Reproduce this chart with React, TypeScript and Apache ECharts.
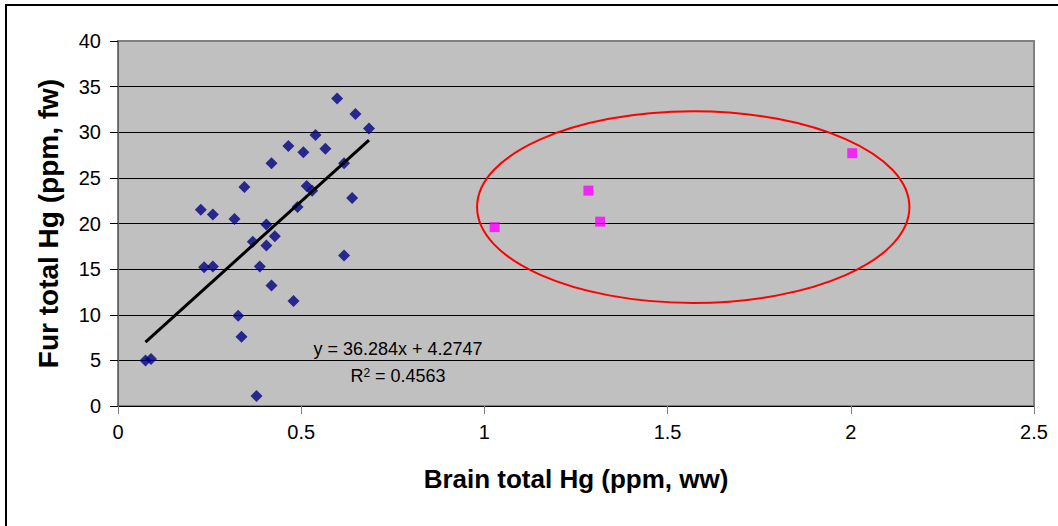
import React, { useEffect, useRef } from "react";
import * as echarts from "echarts";

// Brain total Hg (ppm, ww) vs Fur total Hg (ppm, fw) – main group (blue diamonds)
const brainHg = [0.598, 0.648, 0.685, 0.539, 0.465, 0.566, 0.506, 0.419, 0.617, 0.345, 0.515, 0.53, 0.639, 0.226, 0.259, 0.49, 0.318, 0.405, 0.428, 0.368, 0.405, 0.617, 0.235, 0.259, 0.387, 0.419, 0.479, 0.328, 0.337, 0.075, 0.09, 0.378];
const furHg = [33.7, 32.0, 30.4, 29.7, 28.5, 28.2, 27.8, 26.6, 26.6, 24.0, 24.1, 23.6, 22.8, 21.5, 21.0, 21.8, 20.5, 19.9, 18.6, 18.0, 17.6, 16.5, 15.2, 15.3, 15.3, 13.2, 11.5, 9.9, 7.6, 5.0, 5.15, 1.1];

// Outliers (magenta squares)
const outlierBrainHg = [1.028, 1.284, 1.316, 2.004];
const outlierFurHg = [19.6, 23.6, 20.2, 27.7];

// Trendline from the chart's equation
const trendSlope = 36.284;
const trendIntercept = 4.2747;
const equationText = "y = 36.284x + 4.2747";
const r2Text = "R{sup|2} = 0.4563";

// Highlight ellipse: [centerX, centerY, radiusX, radiusY] in data units
const ellipseData = [[1.57, 21.8, 0.59, 10.5]];

const xTicks = ["0", "0.5", "1", "1.5", "2", "2.5"];
const yMax = 40;
const xMax = 2.5;

const FONT = "'Liberation Sans', Arial, Helvetica, sans-serif";

export default function App() {
  const ref = useRef<HTMLDivElement>(null);

  useEffect(() => {
    if (!ref.current) return;
    document.body.style.margin = "0";
    const chart = echarts.init(ref.current, undefined, { renderer: "svg" });

    const mainPts = brainHg.map((x, i) => [x, furHg[i]]);
    const outPts = outlierBrainHg.map((x, i) => [x, outlierFurHg[i]]);
    const xMin = Math.min(...brainHg);
    const xMaxData = Math.max(...brainHg);
    const trend = [
      [xMin, trendSlope * xMin + trendIntercept],
      [xMaxData, trendSlope * xMaxData + trendIntercept],
    ];

    const splitColors = [] as string[];
    for (let v = 0; v <= yMax; v += 5) splitColors.push(v === yMax ? "#808080" : "#000000");

    chart.setOption({
      animation: false,
      backgroundColor: "#ffffff",
      textStyle: { fontFamily: FONT },
      grid: {
        left: 118,
        right: 24,
        top: 41,
        bottom: 120,
        show: true,
        backgroundColor: "#C0C0C0",
        borderColor: "#808080",
        borderWidth: 2,
      },
      xAxis: {
        type: "value",
        min: 0,
        max: xMax,
        interval: 0.5,
        name: "Brain total Hg (ppm, ww)",
        nameLocation: "middle",
        nameGap: 60,
        nameTextStyle: { fontSize: 26, fontWeight: "bold", color: "#000", fontFamily: FONT },
        axisLine: { show: true, onZero: false, lineStyle: { color: "#000", width: 1 } },
        axisTick: { show: true, length: 8, inside: false, lineStyle: { color: "#808080", width: 1 } },
        axisLabel: {
          fontSize: 20,
          color: "#000",
          margin: 16,
          fontFamily: FONT,
          formatter: (v: number) => {
            const idx = Math.round(v / 0.5);
            return xTicks[idx] ?? String(v);
          },
        },
        splitLine: { show: false },
      },
      yAxis: {
        type: "value",
        min: 0,
        max: yMax,
        interval: 5,
        name: "Fur total Hg (ppm, fw)",
        nameLocation: "middle",
        nameRotate: 90,
        nameGap: 56,
        nameTextStyle: { fontSize: 28, fontWeight: "bold", color: "#000", fontFamily: FONT },
        axisLine: { show: true, onZero: false, lineStyle: { color: "#606060", width: 1 } },
        axisTick: { show: true, length: 8, inside: false, lineStyle: { color: "#000", width: 1 } },
        axisLabel: { fontSize: 20, color: "#000", margin: 17, fontFamily: FONT },
        splitLine: { show: true, lineStyle: { color: splitColors, width: 1 } },
      },
      series: [
        {
          type: "custom",
          name: "ellipse",
          coordinateSystem: "cartesian2d",
          silent: true,
          z: 3,
          renderItem: (params: any, api: any) => {
            const c = api.coord([api.value(0), api.value(1)]);
            const s = api.size([api.value(2), api.value(3)]);
            return {
              type: "ellipse",
              shape: { cx: c[0], cy: c[1], rx: s[0], ry: s[1] },
              style: { fill: "none", stroke: "#FF0000", lineWidth: 2 },
            };
          },
          data: ellipseData,
        },
        {
          type: "scatter",
          name: "main",
          symbol: "diamond",
          symbolSize: 12,
          itemStyle: { color: "#000080" },
          data: mainPts,
          z: 4,
        },
        {
          type: "scatter",
          name: "outliers",
          symbol: "rect",
          symbolSize: 10,
          itemStyle: { color: "#FF00FF" },
          data: outPts,
          z: 4,
        },
        {
          type: "line",
          name: "trend",
          data: trend,
          showSymbol: false,
          symbol: "none",
          lineStyle: { color: "#000", width: 3 },
          z: 5,
        },
      ],
      graphic: [
        {
          type: "rect",
          shape: { x: 6, y: 5, width: 1100, height: 600 },
          style: { fill: "none", stroke: "#000", lineWidth: 2 },
          silent: true,
          z: 10,
        },
        {
          type: "text",
          x: 398,
          y: 349,
          style: {
            text: equationText,
            fontSize: 18,
            fontFamily: FONT,
            fill: "#000",
            align: "center",
            verticalAlign: "middle",
          },
          z: 10,
        },
        {
          type: "text",
          x: 398,
          y: 376,
          style: {
            text: r2Text,
            fontSize: 18,
            fontFamily: FONT,
            fill: "#000",
            align: "center",
            verticalAlign: "middle",
            rich: {
              sup: { fontSize: 12, verticalAlign: "top", lineHeight: 18, fontFamily: FONT, fill: "#000" },
            },
          },
          z: 10,
        },
      ],
    });

    return () => {
      chart.dispose();
    };
  }, []);

  return (
    <div
      ref={ref}
      style={{ position: "absolute", left: 0, top: 0, width: 1058, height: 526 }}
    />
  );
}
